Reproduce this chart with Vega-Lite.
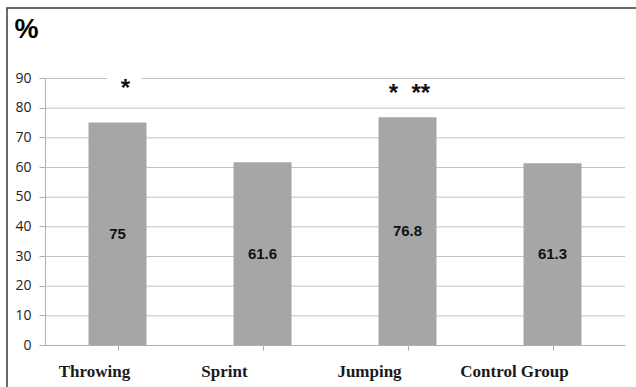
{
  "$schema": "https://vega.github.io/schema/vega-lite/v6.json",
  "width": 640,
  "height": 392,
  "autosize": {"type": "none"},
  "padding": {"left": 7, "top": 8, "right": 0, "bottom": 0},
  "background": "white",
  "config": {
    "view": {"stroke": "#3a3a3a", "strokeWidth": 1.5},
    "axisY": {
      "orient": "left",
      "offset": -38,
      "grid": false,
      "domainColor": "#b0b0b0",
      "tickColor": "#b0b0b0",
      "tickSize": 6,
      "labelPadding": 8,
      "labelFont": "Open Sans",
      "labelFontSize": 14,
      "labelColor": "#222222",
      "values": [0, 10, 20, 30, 40, 50, 60, 70, 80, 90],
      "titleAngle": 0,
      "titleAlign": "left",
      "titleBaseline": "alphabetic",
      "titleX": -31,
      "titleY": 29,
      "titleFont": "Liberation Sans",
      "titleFontSize": 27,
      "titleFontWeight": "bold",
      "titleColor": "#000000"
    }
  },
  "data": {
    "values": [
      {"group": "Throwing", "value": 75, "stars": "*"},
      {"group": "Sprint", "value": 61.6, "stars": ""},
      {"group": "Jumping", "value": 76.8, "stars": "*\u00a0\u00a0**"},
      {"group": "Control Group", "value": 61.3, "stars": ""}
    ]
  },
  "transform": [{"calculate": "datum.value / 2", "as": "mid"}],
  "resolve": {"scale": {"x": "independent"}, "axis": {"x": "independent"}},
  "layer": [
    {
      "data": {"values": [{"g": 10}, {"g": 20}, {"g": 30}, {"g": 40}, {"g": 50}, {"g": 60}, {"g": 70}, {"g": 80}, {"g": 90}]},
      "transform": [],
      "mark": {"type": "rule", "color": "#c0c0c0", "strokeWidth": 1, "yOffset": 0.5},
      "encoding": {
        "x": {"datum": 0, "type": "quantitative", "scale": {"domain": [0, 1], "range": [38, 618]}, "axis": null},
        "x2": {"datum": 1},
        "y": {"field": "g", "type": "quantitative", "title": "%", "scale": {"domain": [0, 90], "nice": false, "range": [337, 70]}}
      }
    },
    {
      "mark": {"type": "bar", "color": "#a6a6a6"},
      "encoding": {
        "x": {
          "field": "group", "type": "nominal", "sort": null,
          "scale": {"paddingInner": 0.6, "paddingOuter": 0.3, "range": [38, 618]},
          "axis": {
            "orient": "bottom", "offset": -55,
            "title": null, "ticks": false, "domain": false, "grid": false,
            "labelAngle": 0, "labelPadding": 18,
            "labelOffset": {"condition": {"test": "datum.value === 'Throwing'", "value": -23}, "value": -38},
            "labelFont": "Liberation Serif", "labelFontSize": 17, "labelFontWeight": "bold",
            "labelColor": "#1a1a1a"
          }
        },
        "y": {
          "field": "value", "type": "quantitative",
          "scale": {"domain": [0, 90], "nice": false, "range": [337, 70]},
          "axis": {"title": "%"}
        }
      }
    },
    {
      "transform": [{"filter": "datum.group === 'Throwing'"}],
      "mark": {"type": "bar", "color": "white", "width": 35, "xOffset": 7},
      "encoding": {
        "x": {"field": "group", "type": "nominal", "sort": null, "axis": null,
              "scale": {"domain": ["Throwing", "Sprint", "Jumping", "Control Group"], "paddingInner": 0.6, "paddingOuter": 0.3, "range": [38, 618]}},
        "y": {"datum": 88, "type": "quantitative", "title": "%"},
        "y2": {"datum": 92}
      }
    },
    {
      "mark": {"type": "text", "font": "Liberation Sans", "fontSize": 15, "fontWeight": "bold", "color": "#111111", "baseline": "middle"},
      "encoding": {
        "x": {
          "field": "group", "type": "nominal", "sort": null,
          "scale": {"paddingInner": 0.6, "paddingOuter": 0.3, "range": [38, 618]},
          "axis": {
            "orient": "bottom", "offset": -55,
            "title": null, "labels": false, "grid": false, "bandPosition": 0,
            "ticks": true, "tickSize": 5, "tickColor": "#b0b0b0",
            "domain": true, "domainColor": "#b0b0b0"
          }
        },
        "y": {"field": "mid", "type": "quantitative", "title": "%"},
        "text": {"field": "value", "type": "quantitative", "format": ".1~f"}
      }
    },
    {
      "mark": {"type": "text", "font": "Liberation Sans", "fontSize": 24, "fontWeight": "bold", "color": "#111111", "baseline": "middle", "dx": 8, "dy": 5},
      "transform": [{"filter": "datum.group !== 'Jumping'"}],
      "encoding": {
        "x": {
          "field": "group", "type": "nominal", "sort": null,
          "scale": {"domain": ["Throwing", "Sprint", "Jumping", "Control Group"], "paddingInner": 0.6, "paddingOuter": 0.3, "range": [38, 618]},
          "axis": {
            "orient": "bottom", "offset": -55,
            "title": null, "labels": false, "grid": false, "bandPosition": 1,
            "ticks": true, "tickSize": 5, "tickColor": "#b0b0b0",
            "domain": false
          }
        },
        "y": {"datum": 88, "type": "quantitative", "title": "%"},
        "text": {"field": "stars"}
      }
    },
    {
      "transform": [{"filter": "datum.group === 'Jumping'"}],
      "mark": {"type": "text", "font": "Liberation Sans", "fontSize": 24, "fontWeight": "bold", "color": "#111111", "baseline": "middle", "dx": 2, "dy": 7},
      "encoding": {
        "x": {"field": "group", "type": "nominal", "sort": null, "axis": null,
              "scale": {"domain": ["Throwing", "Sprint", "Jumping", "Control Group"], "paddingInner": 0.6, "paddingOuter": 0.3, "range": [38, 618]}},
        "y": {"datum": 87, "type": "quantitative", "title": "%"},
        "text": {"field": "stars"}
      }
    }
  ]
}
